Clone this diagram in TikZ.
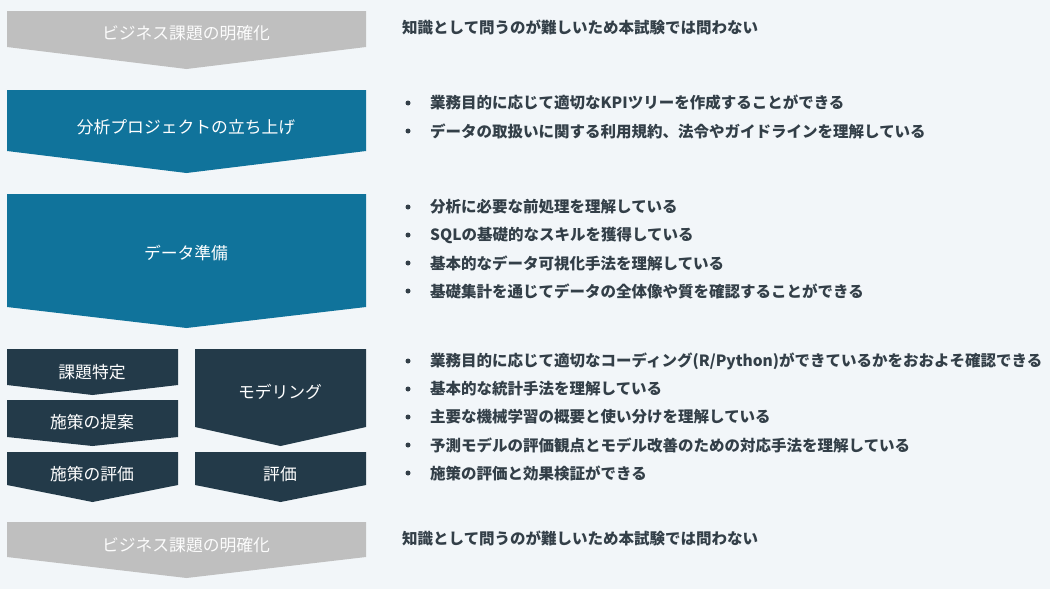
\documentclass[tikz,border=0pt]{standalone}
\usepackage{fontspec}
\setmainfont{Noto Sans CJK JP}
\definecolor{bg}{HTML}{F2F6F9}
\definecolor{graybox}{HTML}{BFBFBF}
\definecolor{bluebox}{HTML}{10739B}
\definecolor{darkbox}{HTML}{233A49}
\definecolor{txt}{HTML}{333F48}
\newcommand{\chev}[6]{\fill[#6] (#1,#3) -- (#2,#3) -- (#2,#4) -- ({(#1+#2)/2},#5) -- (#1,#4) -- cycle;}
\tikzset{
  boxlabel/.style={text=white, font=\fontsize{16.8}{18}\selectfont, inner sep=0pt},
  graylabel/.style={text=white!95!graybox, font=\fontsize{16.8}{18}\selectfont, inner sep=0pt},
  desc/.style={text=txt, font=\bfseries\fontsize{15.5}{17}\selectfont, anchor=west, inner sep=0pt},
  bul/.style={fill=txt}
}
\begin{document}
\begin{tikzpicture}[x=1pt,y=-1pt]
\fill[bg] (0,0) rectangle (1050,589);
\useasboundingbox (0,0) rectangle (1050,589);
% shapes
\chev{7}{366}{11}{47}{69}{graybox}
\chev{7}{366}{90}{151}{173}{bluebox}
\chev{7}{366}{194}{307}{328}{bluebox}
\chev{7}{178}{349}{385}{395}{darkbox}
\chev{7}{178}{400}{437}{446}{darkbox}
\chev{7}{178}{452}{485}{502}{darkbox}
\chev{195}{366}{349}{427}{446}{darkbox}
\chev{195}{366}{452}{485}{502}{darkbox}
\chev{7}{366}{522}{557}{578}{graybox}
% labels
\node[graylabel] (g1) at (186,33) {ビジネス課題の明確化};
\node[boxlabel] (b1) at (186,127) {分析プロジェクトの立ち上げ};
\node[boxlabel] (b2) at (186,253) {データ準備};
\node[boxlabel] (d1) at (92,372) {課題特定};
\node[boxlabel] (d2) at (92,422) {施策の提案};
\node[boxlabel] (d3) at (92,474) {施策の評価};
\node[boxlabel] (m1) at (280,392) {モデリング};
\node[boxlabel] (m2) at (280,474) {評価};
\node[graylabel] (g2) at (186,545) {ビジネス課題の明確化};
% descriptions
\node[desc] (t1) at (402,27) {知識として問うのが難しいため本試験では問わない};
\foreach \yy/\tt [count=\i] in {
  103/{業務目的に応じて適切なKPIツリーを作成することができる},
  131/{データの取扱いに関する利用規約、法令やガイドラインを理解している},
  207/{分析に必要な前処理を理解している},
  235/{SQLの基礎的なスキルを獲得している},
  263/{基本的なデータ可視化手法を理解している},
  291/{基礎集計を通じてデータの全体像や質を確認することができる},
  361/{業務目的に応じて適切なコーディング(R/Python)ができているかをおおよそ確認できる},
  389/{基本的な統計手法を理解している},
  417/{主要な機械学習の概要と使い分けを理解している},
  445/{予測モデルの評価観点とモデル改善のための対応手法を理解している},
  473/{施策の評価と効果検証ができる}}{
  \fill[bul] (408,\yy) circle (2.5);
  \node[desc] (l\i) at (430,\yy) {\tt};
}
\node[desc] (t2) at (402,538) {知識として問うのが難しいため本試験では問わない};
\end{tikzpicture}
\end{document}
